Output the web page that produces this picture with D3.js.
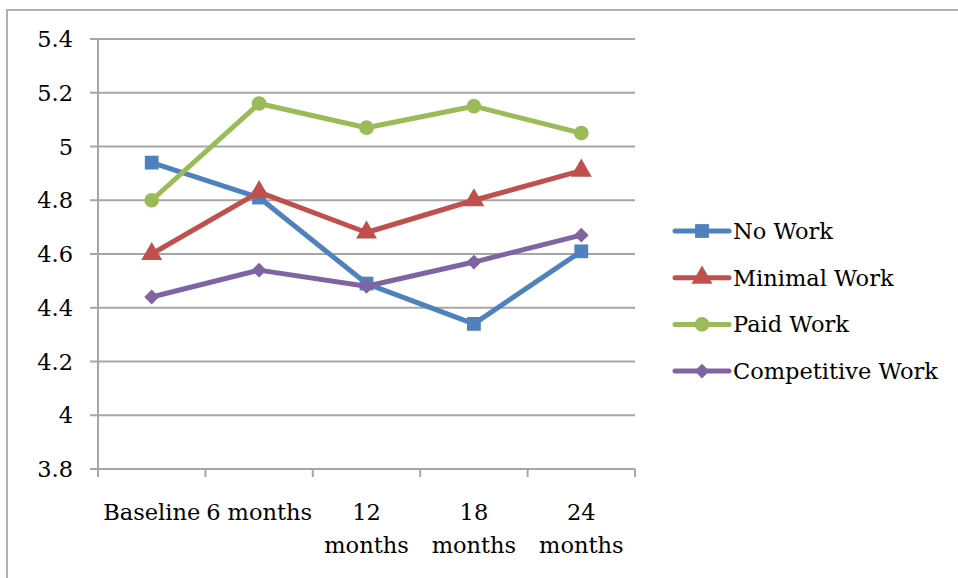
<!DOCTYPE html>
<html lang="en">
<head>
    <meta charset="UTF-8">
    <title>Work Groups Over Time</title>
    <script src="https://d3js.org/d3.v7.min.js"></script>
    <style>
        body { margin: 0; background: #fff; }
        svg { display: block; }
        text { font-family: "DejaVu Serif", "Liberation Serif", serif; fill: #000; }
    </style>
</head>
<body>
    <svg width="958" height="578"></svg>
    <script>
        // Data
        const categories = ["Baseline", "6 months", "12 months", "18 months", "24 months"];
        const seriesNames = ["No Work", "Minimal Work", "Paid Work", "Competitive Work"];
        const noWork = [4.94, 4.81, 4.49, 4.34, 4.61];
        const minimalWork = [4.60, 4.83, 4.68, 4.80, 4.91];
        const paidWork = [4.80, 5.16, 5.07, 5.15, 5.05];
        const competitiveWork = [4.44, 4.54, 4.48, 4.57, 4.67];
        const yTicks = [3.8, 4, 4.2, 4.4, 4.6, 4.8, 5, 5.2, 5.4];

        const colors = ["#4f81bd", "#c0504d", "#9bbb59", "#8064a2"];
        const symbols = [d3.symbolSquare, d3.symbolTriangle, d3.symbolCircle, d3.symbolSquare];
        const symSizes = [190, 190, 170, 110];
        const symRotate = [0, 0, 0, 45];

        const series = seriesNames.map((name, i) => ({
            name,
            values: [noWork, minimalWork, paidWork, competitiveWork][i],
            color: colors[i],
            symbol: symbols[i],
            size: symSizes[i],
            rot: symRotate[i]
        }));

        const svg = d3.select("svg");
        const gridColor = "#a6a6a6";
        const fontSize = 22.5;

        // outer frame (top + left edges visible)
        svg.append("path")
            .attr("d", "M7,578 V10 H958")
            .attr("fill", "none")
            .attr("stroke", "#b0b0b0")
            .attr("stroke-width", 2);

        const plot = { left: 98, right: 635, top: 39, bottom: 469 };

        const x = d3.scaleBand()
            .domain(categories)
            .range([plot.left, plot.right]);

        const y = d3.scaleLinear()
            .domain([3.8, 5.4])
            .range([plot.bottom, plot.top]);

        // horizontal gridlines + y tick marks
        svg.append("g")
            .selectAll("line")
            .data(yTicks)
            .join("line")
            .attr("x1", plot.left - 8)
            .attr("x2", plot.right)
            .attr("y1", d => y(d))
            .attr("y2", d => y(d))
            .attr("stroke", gridColor)
            .attr("stroke-width", 2);

        // y axis line
        svg.append("line")
            .attr("x1", plot.left).attr("x2", plot.left)
            .attr("y1", plot.top).attr("y2", plot.bottom + 8)
            .attr("stroke", gridColor)
            .attr("stroke-width", 2);

        // x tick marks at band boundaries
        const bounds = categories.map(c => x(c)).concat([plot.right]);
        svg.append("g")
            .selectAll("line")
            .data(bounds.slice(1))
            .join("line")
            .attr("x1", d => d).attr("x2", d => d)
            .attr("y1", plot.bottom).attr("y2", plot.bottom + 8)
            .attr("stroke", gridColor)
            .attr("stroke-width", 2);

        // y tick labels
        svg.append("g")
            .selectAll("text")
            .data(yTicks)
            .join("text")
            .attr("x", 73)
            .attr("y", d => y(d) + 8)
            .attr("text-anchor", "end")
            .attr("font-size", fontSize)
            .text(d => d3.format("")(+d.toFixed(1)));

        // x tick labels (wrapped like the original)
        const xLabelLines = [["Baseline"], ["6 months"], ["12", "months"], ["18", "months"], ["24", "months"]];
        const xl = svg.append("g")
            .selectAll("text")
            .data(categories)
            .join("text")
            .attr("text-anchor", "middle")
            .attr("font-size", fontSize);
        xl.each(function (d, i) {
            const t = d3.select(this);
            xLabelLines[i].forEach((ln, j) => {
                t.append("tspan")
                    .attr("x", x(d) + x.bandwidth() / 2)
                    .attr("y", 520 + j * 33)
                    .text(ln);
            });
        });

        const line = d3.line()
            .x((d, i) => x(categories[i]) + x.bandwidth() / 2)
            .y(d => y(d));

        const sg = svg.append("g")
            .selectAll("g")
            .data(series)
            .join("g");

        sg.append("path")
            .attr("d", d => line(d.values))
            .attr("fill", "none")
            .attr("stroke", d => d.color)
            .attr("stroke-width", 5)
            .attr("stroke-linejoin", "round");

        sg.each(function (s) {
            d3.select(this).selectAll(".m")
                .data(s.values)
                .join("path")
                .attr("class", "m")
                .attr("transform", (d, i) => `translate(${x(categories[i]) + x.bandwidth() / 2},${y(d)}) rotate(${s.rot})`)
                .attr("d", d3.symbol().type(s.symbol).size(s.size))
                .attr("fill", s.color);
        });

        // legend
        const legend = svg.append("g")
            .selectAll("g")
            .data(series)
            .join("g")
            .attr("transform", (d, i) => `translate(675,${231 + i * 46.7})`);

        legend.append("line")
            .attr("x1", 0).attr("x2", 54)
            .attr("stroke", d => d.color)
            .attr("stroke-width", 5)
            .attr("stroke-linecap", "round");

        legend.append("path")
            .attr("transform", d => `translate(27,0) rotate(${d.rot})`)
            .attr("d", d => d3.symbol().type(d.symbol).size(d.size)())
            .attr("fill", d => d.color);

        legend.append("text")
            .attr("x", 58)
            .attr("y", 8)
            .attr("font-size", fontSize)
            .text(d => d.name);
    </script>
</body>
</html>
